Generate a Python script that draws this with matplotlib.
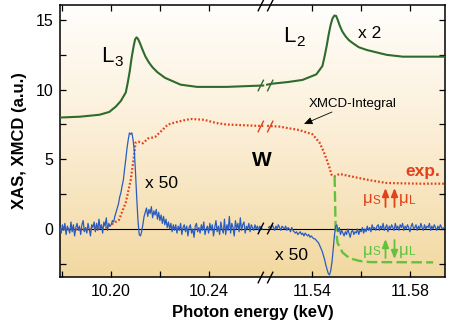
import numpy as np
import matplotlib
matplotlib.use('Agg')
import matplotlib.pyplot as plt
from matplotlib.path import Path
from matplotlib.ticker import NullLocator
from matplotlib.patches import FancyArrowPatch

plt.rcParams['font.family'] = ['Liberation Sans', 'DejaVu Sans']

# ---------------- data ----------------
# XAS (green, offset, L2 scaled x2)
xas_left_E = [10.179, 10.1872, 10.1952, 10.1992, 10.2020, 10.2040, 10.2060, 10.2068, 10.2076,
              10.2084, 10.2092, 10.2098, 10.2104, 10.2110, 10.2118, 10.2128, 10.2140, 10.2155,
              10.2170, 10.2190, 10.2221, 10.2285, 10.2353, 10.2473, 10.2624]
xas_left_I = [8.0, 8.06, 8.2, 8.4, 8.8, 9.2, 9.8, 10.5, 11.3, 12.3, 13.1, 13.6, 13.76, 13.65,
              13.35, 12.9, 12.4, 11.95, 11.6, 11.25, 10.85, 10.36, 10.2, 10.2, 10.3]
xas_right_E = [11.5214, 11.5235, 11.5300, 11.5359, 11.5416, 11.5441, 11.5450, 11.5458, 11.5466,
               11.5474, 11.5482, 11.5490, 11.5497, 11.5504, 11.5512, 11.5522, 11.5535, 11.5550,
               11.5565, 11.5590, 11.5623, 11.5705, 11.5771, 11.5944]
xas_right_I = [10.36, 10.43, 10.55, 10.7, 11.1, 11.7, 12.4, 13.1, 13.9, 14.6, 15.1, 15.32, 15.3,
               15.0, 14.6, 14.2, 13.85, 13.55, 13.35, 13.05, 12.85, 12.5, 12.37, 12.37]

# XMCD integral (red dotted)
int_left_E = [10.179, 10.190, 10.198, 10.2032, 10.2060, 10.2080, 10.2092, 10.2100, 10.2112,
              10.2130, 10.2152, 10.2180, 10.2204, 10.2233, 10.2273, 10.2325, 10.2381, 10.2433,
              10.2473, 10.2605, 10.2624]
int_left_I = [0.0, -0.05, 0.1, 0.65, 1.9, 3.5, 5.0, 6.2, 6.26, 6.15, 6.5, 6.6, 7.0, 7.5, 7.7,
              7.9, 7.84, 7.6, 7.5, 7.4, 7.4]
int_right_E = [11.5214, 11.5264, 11.5346, 11.5400, 11.5429, 11.5445, 11.5458, 11.5470, 11.5478,
               11.5491, 11.5511, 11.5565, 11.5635, 11.5705, 11.5841, 11.5944]
int_right_I = [7.4, 7.35, 7.1, 6.8, 6.2, 5.6, 5.0, 4.4, 3.9, 3.78, 3.95, 3.75, 3.5, 3.3, 3.25, 3.25]

# model for antiparallel mu_S / mu_L (green dashed)
model_E = [11.5491, 11.5495, 11.5503, 11.5524, 11.5552, 11.5594, 11.5635, 11.5895]
model_I = [3.78, 0.15, -1.0, -1.7, -2.1, -2.3, -2.38, -2.4]

# XMCD x50 (blue), sampled every 0.5 eV
xmcd_step = 0.0005
xmcd_left_start = 10.179
xmcd_left = [0.1, -0.3, 0.3, -0.1, 0.4, -0.4, 0.2, 0.0, -0.3, 0.5,
             -0.2, 0.3, -0.5, 0.1, 0.4, -0.1, 0.2, -0.4, 0.3, 0.6,
             -0.2, 0.1, -0.3, 0.4, 0.0, -0.5, 0.3, 0.1, 0.5, -0.2,
             0.4, -0.1, 0.7, 0.0, 0.3, -0.3, 0.5, 0.2, 0.8, -0.1,
             0.4, 0.2,
             0.3, 0.6, 0.5, 0.9, 1.2, 1.5, 1.8, 2.3, 2.6, 3.1,
             3.5, 4.3, 5.0, 5.8, 6.4, 6.9, 6.8, 6.9, 6.4, 5.6,
             4.0, 2.2, 0.6, -0.4, -0.5, -0.2,
             0.3, 0.9, 1.2, 1.5, 0.9, 1.4, 1.1, 1.6, 0.8, 1.3,
             1.0, 1.4, 0.7, 1.2, 0.6, 1.0, 0.4, 0.9, 0.3, 0.7,
             0.1, 0.5, 0.0, 0.4, -0.2, 0.3, -0.1,
             0.3, -0.3, 0.2, -0.1, 0.4, -0.4, 0.1, 0.3, -0.2, 0.2,
             -0.5, 0.1, 0.3, -0.3, 0.0, -0.6, 0.2, 0.4, -0.2, 0.1,
             -0.3, 0.3, -0.1, 0.5, -0.4, 0.0, 0.2, -0.3, 0.4, -0.1,
             0.3, -0.5, 0.1, 0.6, -0.2, 0.2, -0.4, 0.5, 0.0, -0.3,
             0.7, -0.4, 0.3, -0.1, 0.9, -0.3, 0.4, 0.1, -0.5, 0.6,
             0.0, 0.4, -0.2, 0.8, -0.1, 0.3, 0.5, -0.3, 0.2, 0.0,
             0.4, -0.2, 0.3, 0.1, -0.1, 0.3, 0.0, 0.2, -0.1, 0.2,
             0.1, 0.0]
xmcd_right_start = 11.522
xmcd_right = [0.1, 0.2, 0.0, 0.3, 0.1, -0.1, 0.2, 0.0, 0.3, 0.1,
              -0.1, 0.2, 0.1, 0.0, 0.2, -0.1, 0.1, 0.0, -0.2, 0.1,
              -0.1, -0.2,
              -0.3, -0.2, -0.4, -0.3, -0.2, -0.4, -0.3, -0.5, -0.3, -0.4,
              -0.5, -0.4, -0.6, -0.5,
              -0.6, -0.7, -0.7, -0.8, -0.9, -1.0, -1.2, -1.4, -1.6, -1.9,
              -2.2, -2.6, -2.9, -3.2, -3.3, -3.0, -2.4, -1.5, -0.5, 0.2,
              0.3,
              -0.2, 0.1, -0.4, -0.1, -0.3, -0.5, -0.2, -0.4, 0.0, -0.3,
              -0.6, -0.2, -0.1, -0.4, -0.2, -0.3, 0.0, -0.4, -0.1, -0.2,
              0.1, -0.3, 0.0, -0.2, 0.2, -0.1, 0.1, -0.2, 0.3, 0.0,
              0.1, -0.1, 0.2, 0.3, -0.1, 0.2, 0.0, 0.4, -0.1, 0.1,
              0.3, -0.2, 0.2, 0.0, 0.3, 0.1, -0.1, 0.4, 0.0, 0.2,
              -0.1, 0.3, 0.1, 0.4, -0.1, 0.2, 0.0, 0.3, 0.1, -0.2,
              0.2, 0.4, 0.0, 0.1, 0.3, -0.1, 0.2, 0.0, 0.4, 0.1,
              -0.1, 0.3, 0.0, 0.2, 0.1, 0.4, -0.1, 0.2, 0.0, 0.3,
              0.1, -0.1, 0.2, 0.0, 0.3, 0.1, 0.0, 0.1]

x_ticks = [10.18, 10.20, 10.22, 10.24, 11.54, 11.56, 11.58]
x_ticklabels = ['', '10.20', '', '10.24', '11.54', '', '11.58']
y_ticks = [-2.5, 0, 2.5, 5, 7.5, 10, 12.5, 15]
y_ticklabels = ['', '0', '', '5', '', '10', '', '15']

# ---------------- broken axis scale ----------------
BREAK_L, BREAK_R, GAP = 10.2624, 11.5214, 0.0016


def fwd(x):
    x = np.asarray(x, dtype=float)
    return np.where(x <= BREAK_L, x - BREAK_L,
                    np.where(x >= BREAK_R, x - BREAK_R + GAP,
                             (x - BREAK_L) / (BREAK_R - BREAK_L) * GAP))


def inv(y):
    y = np.asarray(y, dtype=float)
    return np.where(y <= 0, y + BREAK_L,
                    np.where(y >= GAP, y - GAP + BREAK_R,
                             BREAK_L + y / GAP * (BREAK_R - BREAK_L)))


W, H = 456, 326
fig = plt.figure(figsize=(W / 100, H / 100), dpi=100)
L, R, T, B = 60, 445, 5, 277
pos = [L / W, 1 - B / H, (R - L) / W, (B - T) / H]


def P(x, y):
    return (x / W, 1 - y / H)


# background gradient
bg = fig.add_axes(pos, zorder=0)
top = np.array([1.0, 0.997, 0.988])
mid = np.array([0.985, 0.93, 0.83])
bot = np.array([0.95, 0.85, 0.63])
g = np.zeros((256, 1, 3))
for i, tv in enumerate(np.linspace(0, 1, 256)):
    if tv < 0.5:
        g[i, 0] = top + (mid - top) * (tv / 0.5)
    else:
        g[i, 0] = mid + (bot - mid) * ((tv - 0.5) / 0.5)
bg.imshow(g, aspect='auto', extent=[0, 1, 0, 1], origin='upper')
bg.axis('off')

ax = fig.add_axes(pos, zorder=1)
ax.set_facecolor('none')
ax.set_xscale('function', functions=(fwd, inv))

green_dark = '#2f6b2c'
red = '#e2421a'
blue = '#2a5cc0'
green_light = '#62c23e'

ax.axhline(0, color='black', lw=0.8, zorder=2)

ax.plot(xas_left_E, xas_left_I, color=green_dark, lw=1.5, zorder=3)
ax.plot(xas_right_E, xas_right_I, color=green_dark, lw=1.5, zorder=3)

ax.plot(int_left_E, int_left_I, color=red, lw=1.6, ls=(0, (0.8, 0.9)), zorder=4)
ax.plot(int_right_E, int_right_I, color=red, lw=1.6, ls=(0, (0.8, 0.9)), zorder=4)

ax.plot(model_E, model_I, color=green_light, lw=1.7, ls=(0, (4.5, 1.8)), zorder=4)

xl = xmcd_left_start + xmcd_step * np.arange(len(xmcd_left))
xr = xmcd_right_start + xmcd_step * np.arange(len(xmcd_right))
ax.plot(xl, xmcd_left, color=blue, lw=0.9, zorder=5)
ax.plot(xr, xmcd_right, color=blue, lw=0.9, zorder=5)

ax.set_xlim(10.179, 11.5944)
ax.set_ylim(-3.45, 16.08)
ax.set_xticks(x_ticks)
ax.set_xticklabels(x_ticklabels)
ax.xaxis.set_minor_locator(NullLocator())
ax.set_yticks(y_ticks)
ax.set_yticklabels(y_ticklabels)
ax.tick_params(direction='in', top=True, right=True, length=4, width=0.9,
               labelsize=11.5, pad=5)
for s in ax.spines.values():
    s.set_linewidth(1.1)

ax.set_xlabel('Photon energy (keV)', fontsize=12, fontweight='bold', labelpad=4)
ax.set_ylabel('XAS, XMCD (a.u.)', fontsize=12, fontweight='bold', labelpad=6)

# break marks
brk = Path([(-2.6, -2), (-0.6, 2), (0.6, -2), (2.6, 2)],
           [Path.MOVETO, Path.LINETO, Path.MOVETO, Path.LINETO])
xb = inv(GAP / 2)
for yb, c in [(10.33, green_dark), (7.4, red), (0.05, 'black')]:
    ax.plot([xb], [yb], marker=brk, ms=11, mew=1.0, color=c, ls='none', zorder=6)
for yy in (0, 1):
    ax.plot([xb], [yy], marker=brk, ms=11, mew=1.0, color='black', ls='none',
            transform=ax.get_xaxis_transform(), clip_on=False, zorder=6)

# annotations
fig.text(*P(107, 57), 'L', fontsize=16, ha='center', va='center')
fig.text(*P(119, 62), '3', fontsize=11, ha='center', va='center')
fig.text(*P(289, 36), 'L', fontsize=16, ha='center', va='center')
fig.text(*P(301, 42), '2', fontsize=11, ha='center', va='center')
fig.text(*P(370, 33), 'x 2', fontsize=12.5, ha='center', va='center')
fig.text(*P(353, 104), 'XMCD-Integral', fontsize=9.5, ha='center', va='center')
ax.annotate('', xy=P(304, 124), xytext=P(332, 112), xycoords='figure fraction',
            textcoords='figure fraction',
            arrowprops=dict(arrowstyle='-|>,head_length=0.5,head_width=0.22', lw=0.6,
                            color='black', shrinkA=0, shrinkB=0))
fig.text(*P(262, 160), 'W', fontsize=15, fontweight='bold', ha='center', va='center')
fig.text(*P(423, 172), 'exp.', fontsize=12.5, fontweight='bold', color=red,
         ha='center', va='center')
fig.text(*P(162, 184), 'x 50', fontsize=12.5, ha='center', va='center')
fig.text(*P(292, 256), 'x 50', fontsize=12.5, ha='center', va='center')


def arrow(x, y0, y1, col):
    fig.add_artist(FancyArrowPatch(P(x, y0), P(x, y1), transform=fig.transFigure,
                                   arrowstyle='-|>,head_length=0.55,head_width=0.22',
                                   mutation_scale=9, lw=1.3, color=col,
                                   shrinkA=0, shrinkB=0))


for yrow, col, dirs in [(198, red, (1, 1)), (249, green_light, (1, -1))]:
    fig.text(*P(367.5, yrow + 1), 'μ', fontsize=12, color=col, ha='center', va='center')
    fig.text(*P(376.5, yrow + 3), 'S', fontsize=8.5, color=col, ha='center', va='center')
    for xa, d in zip((385.5, 394.5), dirs):
        if d > 0:
            arrow(xa, yrow + 9, yrow - 10, col)
        else:
            arrow(xa, yrow - 9, yrow + 10, col)
    fig.text(*P(404, yrow + 1), 'μ', fontsize=12, color=col, ha='center', va='center')
    fig.text(*P(412.5, yrow + 3), 'L', fontsize=8.5, color=col, ha='center', va='center')

fig.savefig('out.png', dpi=100)
